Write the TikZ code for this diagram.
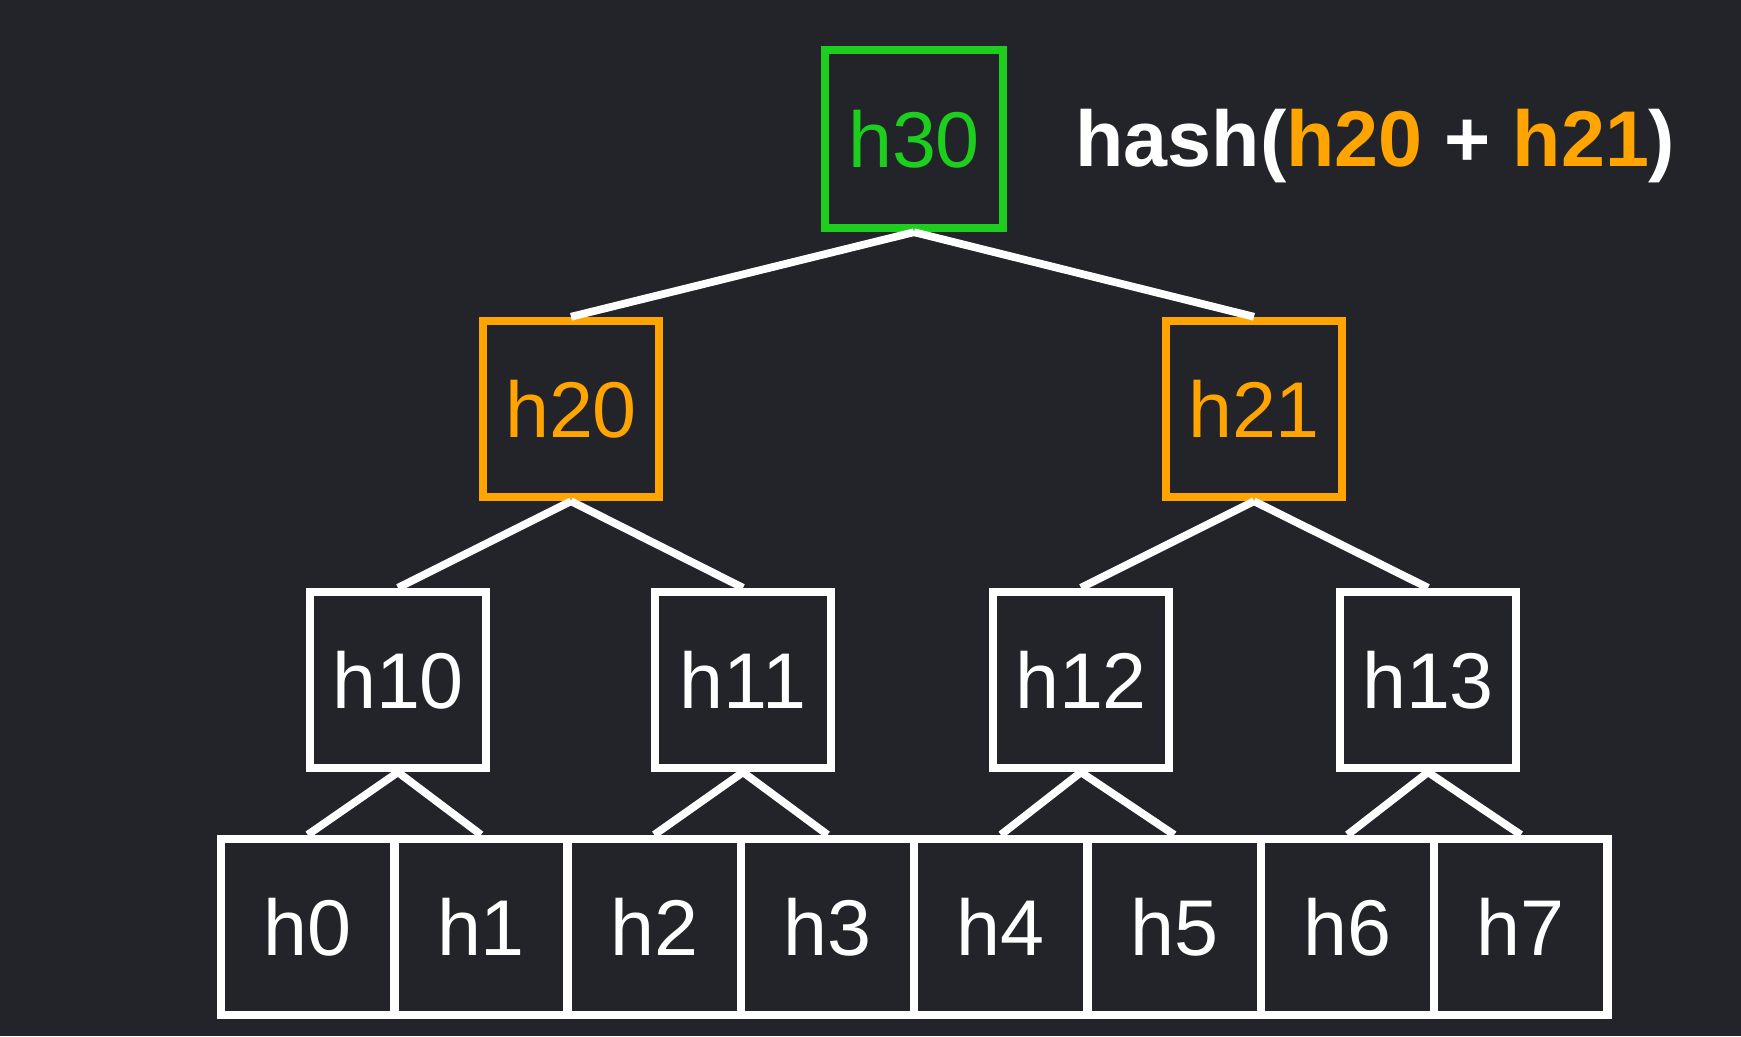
\documentclass[tikz,border=0pt]{standalone}
\usepackage{fontspec}
\setmainfont{Liberation Sans}
\definecolor{bgdark}{RGB}{34,36,42}
\definecolor{rootgreen}{RGB}{30,206,30}
\definecolor{hashorange}{RGB}{255,164,0}

\begin{document}
\begin{tikzpicture}[
        hbox/.style={rectangle,draw=white,line width=2.4pt,fill=bgdark,text=white,
            minimum size=1.76cm,inner sep=0pt,font=\fontsize{22.5}{27}\selectfont},
        leaf/.style={hbox,minimum width=1.733cm,minimum height=1.76cm},
        edge/.style={white,line width=2.2pt}]

    \fill[bgdark] (0,0) rectangle (17.41,10.36);

    % Level 3
    \node[hbox,draw=rootgreen,text=rootgreen,minimum size=1.78cm] (h30) at (9.14,8.97) {h30};
    \node[anchor=base west,text=white,font=\fontsize{22.5}{27}\selectfont\bfseries] (formula) at (10.63,8.69)
        {hash(\textcolor{hashorange}{h20} + \textcolor{hashorange}{h21})};

    % Level 2
    \node[hbox,draw=hashorange,text=hashorange] (h20) at (5.71,6.27) {h20};
    \node[hbox,draw=hashorange,text=hashorange] (h21) at (12.54,6.27) {h21};

    % Level 1
    \node[hbox] (h10) at (3.98,3.56) {h10};
    \node[hbox] (h11) at (7.43,3.56) {h11};
    \node[hbox] (h12) at (10.81,3.56) {h12};
    \node[hbox] (h13) at (14.28,3.56) {h13};

    % Level 0
    \node[leaf] (h0) at (3.077,1.09) {h0};
    \node[leaf] (h1) at (4.810,1.09) {h1};
    \node[leaf] (h2) at (6.543,1.09) {h2};
    \node[leaf] (h3) at (8.276,1.09) {h3};
    \node[leaf] (h4) at (10.009,1.09) {h4};
    \node[leaf] (h5) at (11.742,1.09) {h5};
    \node[leaf] (h6) at (13.475,1.09) {h6};
    \node[leaf] (h7) at (15.208,1.09) {h7};

    % Edges
    \draw[edge] (h30.south) -- (h20.north);
    \draw[edge] (h30.south) -- (h21.north);
    \draw[edge] (h20.south) -- (h10.north);
    \draw[edge] (h20.south) -- (h11.north);
    \draw[edge] (h21.south) -- (h12.north);
    \draw[edge] (h21.south) -- (h13.north);
    \draw[edge] (h10.south) -- (h0.north);
    \draw[edge] (h10.south) -- (h1.north);
    \draw[edge] (h11.south) -- (h2.north);
    \draw[edge] (h11.south) -- (h3.north);
    \draw[edge] (h12.south) -- (h4.north);
    \draw[edge] (h12.south) -- (h5.north);
    \draw[edge] (h13.south) -- (h6.north);
    \draw[edge] (h13.south) -- (h7.north);
\end{tikzpicture}
\end{document}
